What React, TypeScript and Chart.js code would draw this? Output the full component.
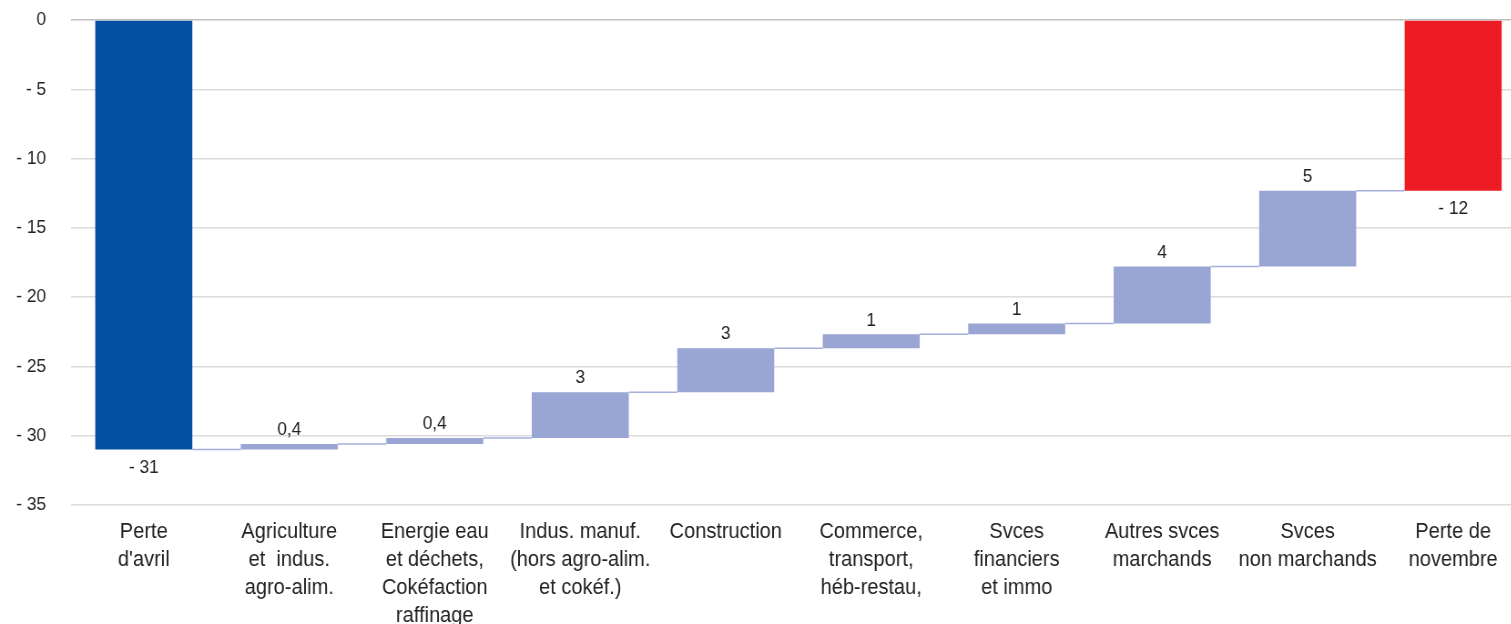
import { useEffect, useRef } from 'react';
import { Chart, registerables } from 'chart.js';

Chart.register(...registerables);

// Category labels (one entry per line of text under each bar)
const categories: string[][] = [
  ['Perte', "d'avril"],
  ['Agriculture', 'et  indus.', 'agro-alim.'],
  ['Energie eau', 'et déchets,', 'Cokéfaction', 'raffinage'],
  ['Indus. manuf.', '(hors agro-alim.', 'et cokéf.)'],
  ['Construction'],
  ['Commerce,', 'transport,', 'héb-restau,'],
  ['Svces', 'financiers', 'et immo'],
  ['Autres svces', 'marchands'],
  ['Svces', 'non marchands'],
  ['Perte de', 'novembre'],
];

// Starting loss and the contribution of each sector to its recovery
const perteAvril = -31;
const contributions = [0.4, 0.44, 3.3, 3.18, 1.0, 0.77, 4.13, 5.45];

// Y axis range and step
const yMin = -35;
const yMax = 0;
const yStep = 5;

const COLOR_START = '#0450A3';
const COLOR_STEP = '#99A5D3';
const COLOR_END = '#ED1C24';
const FONT = "'Liberation Sans', Arial, sans-serif";

// Text in this chart is set slightly condensed
const SQUEEZE = 0.91;
const VIEW_W = 1511;
const PLOT_RIGHT = 1525;
const AXIS_W = 71;

function fmt(v: number): string {
  if (v < 0) return '- ' + Math.round(-v);
  if (Math.abs(v) < 0.5) return v.toFixed(1).replace('.', ',');
  return String(Math.round(v));
}

export default function App() {
  const ref = useRef<HTMLCanvasElement | null>(null);

  useEffect(() => {
    if (!ref.current) return;

    // Floating ranges for the waterfall
    const ranges: [number, number][] = [[0, perteAvril]];
    const levels: number[] = [perteAvril];
    let cum = perteAvril;
    contributions.forEach((d) => {
      ranges.push([cum, cum + d]);
      cum += d;
      levels.push(cum);
    });
    ranges.push([0, cum]);
    const perteNovembre = cum;

    const colors = [COLOR_START, ...contributions.map(() => COLOR_STEP), COLOR_END];
    const labelValues = [perteAvril, ...contributions, perteNovembre];
    const isTotal = labelValues.map((_, i) => i === 0 || i === labelValues.length - 1);

    const overlay = {
      id: 'waterfallOverlay',
      afterDatasetsDraw(chart: any) {
        const ctx = chart.ctx;
        const meta = chart.getDatasetMeta(0);
        const y = chart.scales.y;
        ctx.save();
        // connector lines between consecutive bars
        ctx.strokeStyle = '#A4AFDC';
        ctx.lineWidth = 1.5;
        for (let i = 0; i < meta.data.length - 1; i++) {
          const a = meta.data[i];
          const b = meta.data[i + 1];
          const py = y.getPixelForValue(levels[i]);
          ctx.beginPath();
          ctx.moveTo(a.x + a.width / 2, py);
          ctx.lineTo(b.x - b.width / 2, py);
          ctx.stroke();
        }
        // value labels
        ctx.fillStyle = '#222222';
        ctx.font = `19px ${FONT}`;
        ctx.textAlign = 'center';
        ctx.textBaseline = 'middle';
        meta.data.forEach((el: any, i: number) => {
          const [s, e] = ranges[i];
          if (isTotal[i]) {
            const py = y.getPixelForValue(Math.min(s, e));
            ctx.fillText(fmt(labelValues[i]), el.x, py + 18);
          } else {
            const py = y.getPixelForValue(Math.max(s, e));
            ctx.fillText(fmt(labelValues[i]), el.x, py - 14);
          }
        });
        ctx.restore();
      },
    };

    const chart = new Chart(ref.current, {
      type: 'bar',
      data: {
        labels: categories,
        datasets: [
          {
            data: ranges as any,
            backgroundColor: colors,
            borderWidth: 0,
            barPercentage: 0.667,
            categoryPercentage: 1,
          },
        ],
      },
      options: {
        animation: false,
        responsive: true,
        maintainAspectRatio: false,
        layout: { padding: { top: 20, left: 0, right: 0, bottom: 0 } },
        plugins: {
          legend: { display: false },
          tooltip: { enabled: false },
        },
        scales: {
          x: {
            grid: { display: false, drawTicks: false },
            border: { display: false },
            ticks: {
              color: '#222222',
              font: { family: FONT, size: 22, lineHeight: 1.27 },
              padding: 13,
              maxRotation: 0,
              autoSkip: false,
            },
            afterFit(scale: any) {
              scale.height = 119;
            },
          },
          y: {
            min: yMin,
            max: yMax,
            grid: {
              color: (c: any) => (c.tick && c.tick.value === 0 ? '#BFBFBF' : '#DCDCDC'),
              lineWidth: 1.5,
              drawTicks: false,
            },
            border: { display: false },
            ticks: {
              stepSize: yStep,
              color: '#222222',
              font: { family: FONT, size: 19 },
              padding: 25 / SQUEEZE,
              callback: (v: any) => (Number(v) < 0 ? '- ' + Math.abs(Number(v)) : String(v)),
            },
            afterFit(scale: any) {
              scale.width = AXIS_W / SQUEEZE;
              // the plot area edges are set by the layout padding alone
              scale.paddingTop = 0;
              scale.paddingBottom = 0;
            },
          },
        },
      },
      plugins: [overlay],
    });

    return () => chart.destroy();
  }, []);

  return (
    <div style={{ position: 'fixed', left: 0, top: 0, width: VIEW_W, height: 624, overflow: 'hidden', background: '#fff' }}>
      <div
        style={{
          position: 'relative',
          width: PLOT_RIGHT / SQUEEZE,
          height: 624,
          transform: `scaleX(${SQUEEZE})`,
          transformOrigin: 'left top',
        }}
      >
        <canvas ref={ref} />
      </div>
    </div>
  );
}
